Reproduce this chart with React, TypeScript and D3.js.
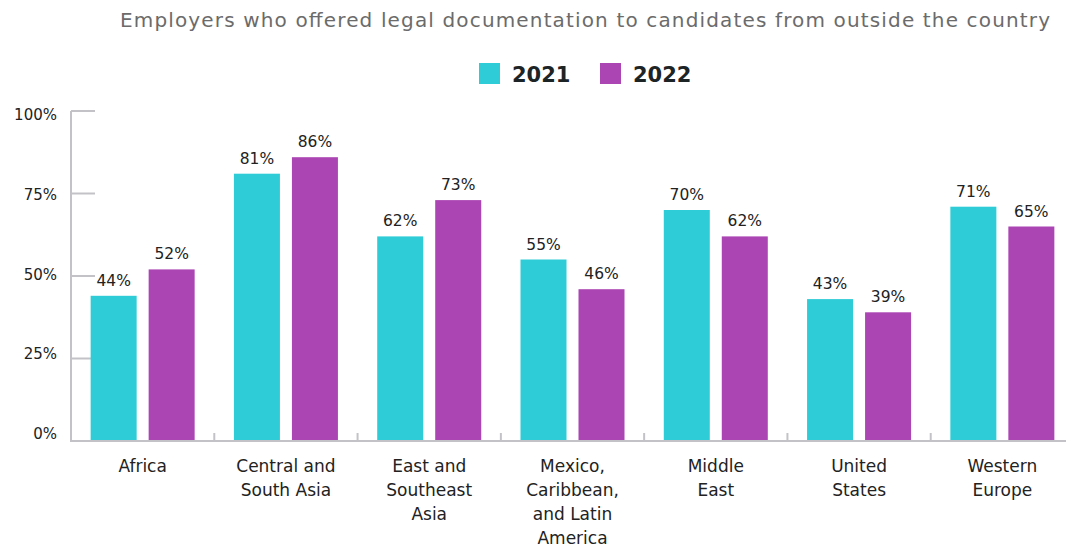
import React from "react";
import * as d3 from "d3";

const categories: string[][] = [
  ["Africa"],
  ["Central and", "South Asia"],
  ["East and", "Southeast", "Asia"],
  ["Mexico,", "Caribbean,", "and Latin", "America"],
  ["Middle", "East"],
  ["United", "States"],
  ["Western", "Europe"],
];
const series = ["2021", "2022"];
const values2021 = [44, 81, 62, 55, 70, 43, 71];
const values2022 = [52, 86, 73, 46, 62, 39, 65];
const yTicks = [0, 25, 50, 75, 100];
const colors = ["#2ECCD6", "#AC45B4"];
const title = "Employers who offered legal documentation to candidates from outside the country";

const W = 1066;
const H = 548;
const FONT = "'DejaVu Sans', 'Open Sans', sans-serif";

export default function App() {
  const idx = categories.map((_, i) => String(i));
  const x = d3.scaleBand<string>().domain(idx).range([71, 1074]);
  const y = d3.scaleLinear().domain([0, 100]).range([441, 111]);
  const yLab = d3.scaleLinear().domain([0, 100]).range([433, 114]);
  const barW = 46;
  const offsets = [-29, 29];
  const data = [values2021, values2022];

  return (
    <div style={{ position: "absolute", left: 0, top: 0 }}>
      <svg width={W} height={H} style={{ display: "block", fontFamily: FONT }}>
        <text x={1050} y={27} textAnchor="end" fontSize={20} fill="#6b6b6b" textLength={930} lengthAdjust="spacing">
          {title}
        </text>
        {/* legend */}
        {series.map((s, i) => (
          <g key={s} transform={`translate(${i === 0 ? 479 : 600},63)`}>
            <rect width={21} height={21} fill={colors[i]} />
            <text x={33} y={19} fontSize={21} fontWeight={700} fill="#1d2426">
              {s}
            </text>
          </g>
        ))}
        {/* y axis */}
        <line x1={71} x2={71} y1={y(100)} y2={y(0)} stroke="#c3c3c7" strokeWidth={2} />
        {yTicks.map((t) => (
          <g key={t}>
            <line x1={71} x2={95} y1={y(t)} y2={y(t)} stroke="#c3c3c7" strokeWidth={2} />
            <text x={57} y={yLab(t) + 6} textAnchor="end" fontSize={15} fill="#222">
              {t}%
            </text>
          </g>
        ))}
        {/* bars */}
        {idx.map((k, i) => {
          const cx = (x(k) as number) + x.bandwidth() / 2;
          return (
            <g key={k}>
              {data.map((vals, s) => {
                const v = vals[i];
                const bx = cx + offsets[s] - barW / 2;
                return (
                  <g key={s}>
                    <rect x={bx} y={y(v)} width={barW} height={y(0) - y(v)} fill={colors[s]} />
                    <text x={bx + barW / 2} y={y(v) - 10} textAnchor="middle" fontSize={15.5} fill="#222">
                      {v}%
                    </text>
                  </g>
                );
              })}
              {categories[i].map((line, j) => (
                <text key={j} x={cx} y={472 + j * 24} textAnchor="middle" fontSize={17} fill="#222">
                  {line}
                </text>
              ))}
            </g>
          );
        })}
        {/* x axis */}
        <line x1={70} x2={W} y1={441} y2={441} stroke="#c3c3c7" strokeWidth={2} />
        {idx.slice(1).map((k) => (
          <line key={k} x1={x(k) as number} x2={x(k) as number} y1={433} y2={441} stroke="#c3c3c7" strokeWidth={2} />
        ))}
      </svg>
    </div>
  );
}
